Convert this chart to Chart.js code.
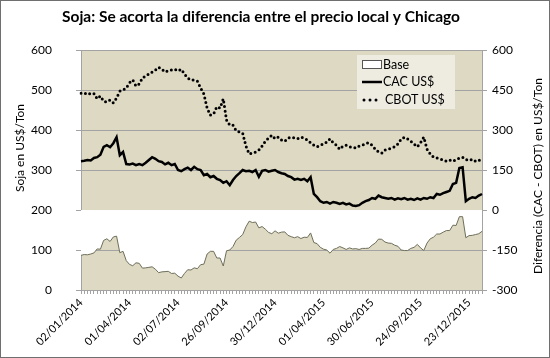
<!DOCTYPE html>
<html>
<head>
<meta charset="utf-8">
<script src="https://cdn.jsdelivr.net/npm/chart.js@4.4.1/dist/chart.umd.min.js"></script>
<style>
  html, body { margin: 0; padding: 0; background: #fff; }
  #wrap { width: 550px; height: 358px; position: relative; }
</style>
</head>
<body>
<div id="wrap"><canvas id="sojaChart" width="550" height="358"></canvas></div>
<script>
// Tick labels on the date axis (one every 15 points)
const tickDates = ['02/01/2014', '01/04/2014', '02/07/2014', '26/09/2014', '30/12/2014',
    '01/04/2015', '30/06/2015', '24/09/2015', '23/12/2015'];
const labelEvery = 15;

// CAC price, US$/Ton
const cac = [
    322, 323, 325, 324, 330, 332, 338, 358, 362, 357,
    367, 382, 337, 345, 315, 314, 316, 312, 315, 312,
    318, 325, 332, 328, 322, 320, 314, 318, 312, 315,
    300, 297, 302, 306, 300, 308, 302, 300, 287, 290,
    282, 285, 278, 275, 268, 272, 262, 275, 285, 292,
    300, 297, 298, 295, 300, 283, 298, 300, 296, 298,
    300, 295, 292, 290, 285, 282, 276, 278, 275, 278,
    272, 282, 240, 232, 222, 218, 220, 216, 220, 218,
    215, 218, 214, 216, 211, 210, 212, 218, 222, 225,
    230, 228, 236, 232, 230, 228, 230, 226, 229, 227,
    230, 226, 228, 225, 229, 226, 230, 228, 232, 230,
    240, 238, 242, 245, 248, 265, 268, 305, 307, 222,
    228, 232, 230, 236, 240
];

// CBOT price, US$/Ton
const cbot = [
    492, 490, 493, 489, 491, 478, 485, 472, 470, 475,
    468, 480, 497, 500, 505, 518, 525, 510, 515, 530,
    535, 540, 545, 550, 557, 552, 545, 548, 550, 552,
    548, 552, 540, 530, 525, 525, 522, 505, 490, 455,
    437, 440, 458, 455, 478, 425, 412, 412, 398, 395,
    392, 360, 340, 342, 345, 350, 360, 372, 380, 387,
    378, 382, 375, 372, 380, 382, 380, 378, 382, 380,
    375, 368, 362, 358, 362, 365, 370, 378, 368, 362,
    352, 360, 362, 358, 357, 355, 360, 362, 366, 368,
    362, 352, 345, 342, 350, 352, 355, 358, 365, 377,
    382, 378, 372, 365, 358, 368, 382, 352, 340, 332,
    330, 328, 325, 322, 325, 322, 326, 330, 332, 326,
    324, 327, 322, 325, 320
];

// Base: difference CAC - CBOT, US$/Ton (right axis)
const base = [
    -170, -167, -168, -165, -161, -146, -147, -114, -108, -118,
    -101, -98, -160, -155, -190, -204, -209, -198, -200, -218,
    -217, -215, -213, -222, -235, -232, -231, -230, -238, -237,
    -248, -255, -238, -224, -225, -217, -220, -205, -203, -165,
    -155, -155, -180, -180, -210, -153, -150, -137, -113, -103,
    -92, -63, -42, -47, -45, -67, -62, -72, -84, -89,
    -78, -87, -83, -82, -95, -100, -104, -100, -107, -102,
    -103, -86, -122, -126, -140, -147, -150, -162, -148, -144,
    -137, -142, -148, -142, -146, -145, -148, -144, -144, -143,
    -132, -124, -109, -110, -120, -124, -125, -132, -136, -150,
    -152, -152, -144, -140, -129, -142, -152, -124, -108, -102,
    -90, -90, -83, -77, -77, -57, -58, -25, -25, -104,
    -96, -95, -92, -89, -80
];

const leftTicks = [0, 100, 200, 300, 400, 500, 600];
const rightTicks = [-300, -150, 0, 150, 300, 450, 600];

const chartTitle = 'Soja: Se acorta la diferencia entre el precio local y Chicago';
const FONT = 'Lato, "Open Sans", sans-serif';
const plotBg = '#ddd9c3';
const legendBg = '#eeece1';
const gridColor = '#a3a3a3';

// Sparse category labels: a date every labelEvery points
const labels = cac.map((v, i) => (i % labelEvery === 0 ? (tickDates[i / labelEvery] || '') : ''));

// Plot background, title, border, axis titles and the inside legend
const decorPlugin = {
    id: 'decor',
    beforeDraw(chart) {
        const { ctx, chartArea: a } = chart;
        ctx.save();
        ctx.fillStyle = '#fff';
        ctx.fillRect(0, 0, chart.width, chart.height);
        ctx.fillStyle = plotBg;
        ctx.fillRect(a.left, a.top, a.right - a.left, a.bottom - a.top);
        ctx.restore();
    },
    afterDraw(chart) {
        const { ctx } = chart;
        ctx.save();
        // outer frame
        ctx.strokeStyle = '#6f6f6f';
        ctx.lineWidth = 1;
        ctx.strokeRect(0.5, 0.5, chart.width - 1, chart.height - 1);

        // chart title
        ctx.fillStyle = '#000';
        ctx.textAlign = 'center';
        ctx.textBaseline = 'middle';
        ctx.font = 'bold 15.5px ' + FONT;
        ctx.fillText(chartTitle, 261, 17);

        // axis titles
        ctx.font = '12px ' + FONT;
        ctx.save();
        ctx.translate(20, 148);
        ctx.rotate(-Math.PI / 2);
        ctx.fillText('Soja en US$/Ton', 0, 0);
        ctx.restore();
        ctx.save();
        ctx.translate(538, 176);
        ctx.rotate(-Math.PI / 2);
        ctx.fillText('Diferencia (CAC - CBOT) en US$/Ton', 0, 0);
        ctx.restore();

        // legend box
        const lx = 357, ly = 55, lw = 98, lh = 54;
        ctx.fillStyle = legendBg;
        ctx.fillRect(lx, ly, lw, lh);
        const ds = chart.data.datasets;
        const rows = [ly + 10, ly + 27, ly + 45];
        ctx.font = '12.5px ' + FONT;
        ctx.textAlign = 'left';
        ds.forEach((d, k) => {
            const y = rows[k];
            if (k === 0) {
                ctx.fillStyle = '#fff';
                ctx.fillRect(lx + 5.5, y - 4.5, 19, 8);
                ctx.strokeStyle = '#555';
                ctx.lineWidth = 1;
                ctx.strokeRect(lx + 5.5, y - 4.5, 19, 8);
            } else if (k === 1) {
                ctx.strokeStyle = '#000';
                ctx.lineWidth = 2.5;
                ctx.beginPath();
                ctx.moveTo(lx + 5, y);
                ctx.lineTo(lx + 25, y);
                ctx.stroke();
            } else {
                ctx.fillStyle = '#000';
                [lx + 7, lx + 13, lx + 19].forEach(px => {
                    ctx.beginPath();
                    ctx.arc(px, y, 1.5, 0, Math.PI * 2);
                    ctx.fill();
                });
            }
            ctx.fillStyle = '#000';
            ctx.fillText(d.label, lx + (k === 2 ? 28 : 26), y);
        });
        ctx.restore();
    }
};

const ctx = document.getElementById('sojaChart').getContext('2d');
const chart = new Chart(ctx, {
    type: 'line',
    data: {
        labels: labels,
        datasets: [
            {
                label: 'Base',
                data: base,
                yAxisID: 'y2',
                borderColor: '#6e6e5a',
                borderWidth: 1,
                backgroundColor: '#ffffff',
                fill: { value: 0 },
                pointRadius: 0,
                tension: 0,
                order: 3
            },
            {
                label: 'CAC US$',
                data: cac,
                yAxisID: 'y',
                borderColor: '#000',
                borderWidth: 2.5,
                pointRadius: 0,
                tension: 0,
                fill: false,
                order: 1
            },
            {
                label: 'CBOT US$',
                data: cbot,
                yAxisID: 'y',
                borderColor: '#000',
                borderWidth: 3,
                borderDash: [0, 4.6],
                borderCapStyle: 'round',
                pointRadius: 0,
                tension: 0,
                fill: false,
                order: 2
            }
        ]
    },
    options: {
        responsive: false,
        animation: false,
        events: [],
        layout: { padding: { left: 0, right: 0, top: 50, bottom: 0 } },
        plugins: {
            legend: { display: false },
            tooltip: { enabled: false },
            title: { display: false }
        },
        scales: {
            x: {
                type: 'category',
                grid: {
                    display: true,
                    drawOnChartArea: false,
                    drawTicks: true,
                    tickLength: 4,
                    color: gridColor
                },
                border: { display: true, color: gridColor },
                ticks: {
                    autoSkip: false,
                    maxRotation: 45,
                    minRotation: 45,
                    padding: 2,
                    color: '#000',
                    font: { family: FONT, size: 11 }
                },
                afterFit(scale) { scale.height = 68; }
            },
            y: {
                position: 'left',
                min: 0,
                max: 600,
                afterBuildTicks(scale) { scale.ticks = leftTicks.map(v => ({ value: v })); },
                grid: { color: gridColor, tickLength: 5 },
                border: { display: true, color: gridColor },
                ticks: {
                    padding: 24,
                    color: '#000',
                    font: { family: FONT, size: 12 }
                },
                afterFit(scale) { scale.width = 81; }
            },
            y2: {
                position: 'right',
                min: -300,
                max: 600,
                afterBuildTicks(scale) { scale.ticks = rightTicks.map(v => ({ value: v })); },
                grid: { drawOnChartArea: false, color: gridColor, tickLength: 5 },
                border: { display: true, color: gridColor },
                ticks: {
                    padding: 5,
                    color: '#000',
                    font: { family: FONT, size: 12 }
                },
                afterFit(scale) { scale.width = 68; }
            }
        }
    },
    plugins: [decorPlugin]
});
</script>
</body>
</html>
